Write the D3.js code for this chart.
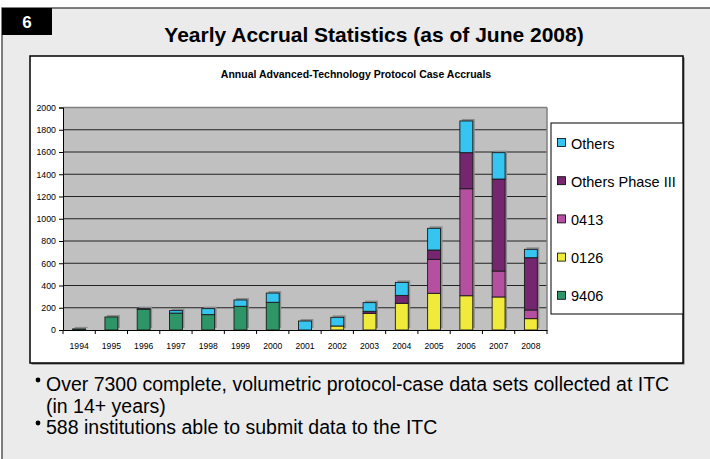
<!DOCTYPE html>
<html>
<head>
<meta charset="utf-8">
<script src="https://cdn.jsdelivr.net/npm/d3@7"></script>
<style>
  body { margin: 0; background: #fff; }
  svg { display: block; font-family: Arial, "Liberation Sans", sans-serif; }
</style>
</head>
<body>
<svg id="chart" width="710" height="459"></svg>
<script>
// --- data ---
const years = ['1994', '1995', '1996', '1997', '1998', '1999', '2000', '2001',
  '2002', '2003', '2004', '2005', '2006', '2007', '2008'];
const s9406 = [10, 117, 186, 152, 138, 213, 249, 0, 0, 0, 0, 0, 0, 0, 0];
const s0126 = [0, 0, 0, 0, 0, 0, 0, 0, 36, 150, 240, 330, 308, 297, 102];
const s0413 = [0, 0, 0, 0, 0, 0, 0, 0, 0, 0, 0, 305, 962, 233, 78];
const sPhase3 = [0, 0, 0, 0, 0, 0, 0, 0, 0, 18, 71, 84, 324, 827, 470];
const sOthers = [0, 0, 6, 22, 54, 57, 83, 81, 78, 78, 117, 195, 285, 237, 75];
const yTicks = [0, 200, 400, 600, 800, 1000, 1200, 1400, 1600, 1800, 2000];

const seriesNames = ['9406', '0126', '0413', 'Others Phase III', 'Others'];
const seriesColors = ['#2e9666', '#f0ea3c', '#b550a0', '#74266f', '#35c5f0'];
const seriesValues = [s9406, s0126, s0413, sPhase3, sOthers];

const bullets = [
  ['Over 7300 complete, volumetric protocol-case data sets collected at ITC', '(in 14+ years)'],
  ['588 institutions able to submit data to the ITC']
];

const svg = d3.select('#chart');

// slide background + frame
svg.append('rect').attr('x', 2).attr('y', 8).attr('width', 720).attr('height', 470)
  .attr('fill', '#ebebeb').attr('stroke', '#555').attr('stroke-width', 1.5);

// slide number tab
svg.append('rect').attr('x', 2).attr('y', 8).attr('width', 50).attr('height', 27).attr('fill', '#000');
svg.append('text').attr('x', 27).attr('y', 28).attr('text-anchor', 'middle')
  .attr('fill', '#fff').attr('font-weight', 'bold').attr('font-size', 17).text('6');

// slide title
svg.append('text').attr('x', 374).attr('y', 42).attr('text-anchor', 'middle')
  .attr('font-weight', 'bold').attr('font-size', 21).attr('fill', '#000')
  .text('Yearly Accrual Statistics (as of June 2008)');

// chart box
svg.append('rect').attr('x', 31.5).attr('y', 57.5).attr('width', 653).attr('height', 307).attr('fill', '#666');
svg.append('rect').attr('x', 30).attr('y', 56).attr('width', 653).attr('height', 307)
  .attr('fill', '#fff').attr('stroke', '#000').attr('stroke-width', 1.5);

svg.append('text').attr('x', 356).attr('y', 78).attr('text-anchor', 'middle')
  .attr('font-weight', 'bold').attr('font-size', 10.5).text('Annual Advanced-Technology Protocol Case Accruals');

// plot area
const plot = { left: 63, right: 547, top: 107.5, bottom: 330 };
const x = d3.scaleBand().domain(years).range([plot.left, plot.right]).paddingInner(0.6).paddingOuter(0.3);
const y = d3.scaleLinear().domain([0, 2000]).range([plot.bottom, plot.top]);

svg.append('rect').attr('x', plot.left).attr('y', plot.top)
  .attr('width', plot.right - plot.left).attr('height', plot.bottom - plot.top).attr('fill', '#c0c0c0');

// gridlines
svg.append('g').selectAll('line').data(yTicks.filter(d => d > 0)).join('line')
  .attr('x1', plot.left).attr('x2', plot.right)
  .attr('y1', d => y(d)).attr('y2', d => y(d))
  .attr('stroke', d => d === 2000 ? '#808080' : '#222').attr('stroke-width', d => d === 2000 ? 1.5 : 1);
svg.append('line').attr('x1', plot.right).attr('x2', plot.right).attr('y1', plot.top).attr('y2', plot.bottom)
  .attr('stroke', '#808080').attr('stroke-width', 1.5);

// stacked bars
const table = years.map((yr, i) => {
  const row = { year: yr };
  seriesNames.forEach((n, k) => { row[n] = seriesValues[k][i]; });
  return row;
});
const stacked = d3.stack().keys(seriesNames)(table);

// shadows
const totals = years.map((yr, i) => d3.sum(seriesValues, s => s[i]));
svg.append('g').selectAll('rect').data(years).join('rect')
  .attr('x', d => x(d) + 2).attr('y', (d, i) => y(totals[i]) - 2)
  .attr('width', x.bandwidth()).attr('height', (d, i) => y(0) - y(totals[i]))
  .attr('fill', '#8c8c8c');

stacked.forEach((layer, k) => {
  svg.append('g').selectAll('rect').data(layer.filter(d => d[1] - d[0] > 0)).join('rect')
    .attr('x', d => x(d.data.year)).attr('y', d => y(d[1]))
    .attr('width', x.bandwidth()).attr('height', d => y(d[0]) - y(d[1]))
    .attr('fill', seriesColors[k]).attr('stroke', '#1a1a1a').attr('stroke-width', 0.9);
});

// axes
const yAxis = svg.append('g').attr('transform', `translate(${plot.left},0)`)
  .call(d3.axisLeft(y).tickValues(yTicks).tickSize(4).tickFormat(d3.format('d')));
yAxis.select('.domain').attr('stroke', '#000');
yAxis.selectAll('text').attr('font-size', 8.8).attr('font-family', 'Arial, sans-serif').attr('fill', '#000');

const xAxis = svg.append('g').attr('transform', `translate(0,${plot.bottom})`)
  .call(d3.axisBottom(x).tickSize(0).tickPadding(13));
xAxis.select('.domain').attr('stroke', '#000').attr('stroke-width', 1.2);
xAxis.selectAll('text').attr('font-size', 8.6).attr('font-family', 'Arial, sans-serif').attr('fill', '#000');
svg.append('g').selectAll('line').data(d3.range(years.length + 1)).join('line')
  .attr('x1', i => plot.left + i * (plot.right - plot.left) / years.length)
  .attr('x2', i => plot.left + i * (plot.right - plot.left) / years.length)
  .attr('y1', plot.bottom).attr('y2', plot.bottom + 4).attr('stroke', '#000');

// legend
svg.append('rect').attr('x', 551).attr('y', 123).attr('width', 132).attr('height', 191)
  .attr('fill', '#fff').attr('stroke', '#000').attr('stroke-width', 1);
const legendOrder = seriesNames.map((n, k) => ({ name: n, color: seriesColors[k] })).reverse();
const lg = svg.append('g').selectAll('g').data(legendOrder).join('g')
  .attr('transform', (d, i) => `translate(557,${143 + i * 38.2})`);
lg.append('rect').attr('x', 0.5).attr('y', -4.5).attr('width', 8).attr('height', 8)
  .attr('fill', d => d.color).attr('stroke', '#000').attr('stroke-width', 0.8);
lg.append('text').attr('x', 14).attr('y', 5.5).attr('font-size', 14.5).text(d => d.name);

// bullets
let lineY = 391;
bullets.forEach(b => {
  svg.append('circle').attr('cx', 38).attr('cy', lineY - 11).attr('r', 2.4).attr('fill', '#000');
  b.forEach(t => {
    svg.append('text').attr('x', 46).attr('y', lineY).attr('font-size', 19.5).text(t);
    lineY += 21.5;
  });
});
</script>
</body>
</html>
